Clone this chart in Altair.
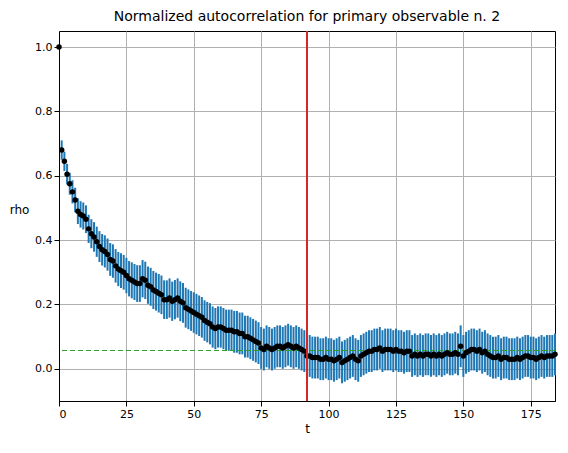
import altair as alt
import pandas as pd

rho = [1.0,0.68,0.645,0.605,0.575,0.55,0.525,0.49,0.48,0.475,
0.465,0.435,0.42,0.41,0.395,0.38,0.37,0.365,0.355,0.34,
0.335,0.32,0.31,0.305,0.3,0.29,0.28,0.275,0.27,0.265,
0.265,0.28,0.275,0.26,0.255,0.245,0.24,0.235,0.23,0.215,
0.215,0.22,0.21,0.215,0.22,0.21,0.205,0.19,0.185,0.18,
0.175,0.17,0.165,0.16,0.15,0.145,0.14,0.13,0.125,0.13,
0.13,0.125,0.12,0.12,0.12,0.115,0.115,0.11,0.11,0.1,
0.1,0.095,0.09,0.085,0.08,0.065,0.06,0.07,0.065,0.06,
0.065,0.07,0.07,0.065,0.07,0.075,0.07,0.065,0.07,0.065,
0.06,0.055,0.04,0.04,0.035,0.035,0.035,0.03,0.03,0.035,
0.03,0.03,0.025,0.03,0.035,0.02,0.025,0.03,0.035,0.04,
0.03,0.025,0.04,0.045,0.05,0.055,0.055,0.06,0.06,0.065,
0.055,0.06,0.06,0.06,0.055,0.06,0.055,0.055,0.05,0.055,
0.055,0.04,0.045,0.04,0.045,0.04,0.045,0.045,0.04,0.045,
0.04,0.045,0.04,0.045,0.05,0.045,0.045,0.05,0.045,0.07,
0.04,0.05,0.055,0.06,0.06,0.055,0.06,0.05,0.055,0.045,
0.04,0.035,0.035,0.04,0.03,0.035,0.035,0.03,0.03,0.03,
0.035,0.03,0.035,0.04,0.04,0.035,0.035,0.03,0.035,0.04,
0.035,0.04,0.04,0.04,0.045]

err = [0.0,0.03,0.03,0.032,0.034,0.036,0.038,0.04,0.041,0.042,
0.043,0.044,0.045,0.046,0.047,0.048,0.049,0.05,0.05,0.051,
0.052,0.052,0.053,0.054,0.054,0.055,0.055,0.056,0.056,0.057,
0.057,0.058,0.058,0.058,0.059,0.059,0.059,0.06,0.06,0.06,
0.06,0.061,0.061,0.061,0.061,0.062,0.062,0.062,0.062,0.062,
0.063,0.063,0.063,0.063,0.063,0.063,0.064,0.064,0.064,0.064,
0.064,0.064,0.064,0.064,0.064,0.065,0.065,0.065,0.065,0.065,
0.065,0.065,0.065,0.065,0.065,0.065,0.065,0.065,0.065,0.065,
0.065,0.065,0.065,0.065,0.065,0.065,0.065,0.065,0.065,0.065,
0.065,0.065,0.065,0.065,0.065,0.065,0.065,0.065,0.065,0.065,
0.065,0.065,0.065,0.065,0.065,0.065,0.065,0.065,0.065,0.065,
0.065,0.065,0.065,0.065,0.065,0.065,0.065,0.065,0.065,0.065,
0.065,0.065,0.065,0.065,0.065,0.065,0.065,0.065,0.065,0.065,
0.065,0.065,0.065,0.065,0.065,0.065,0.065,0.065,0.065,0.065,
0.065,0.065,0.065,0.065,0.065,0.065,0.065,0.065,0.065,0.065,
0.065,0.065,0.065,0.065,0.065,0.065,0.065,0.065,0.065,0.065,
0.065,0.065,0.065,0.065,0.065,0.065,0.065,0.065,0.065,0.065,
0.065,0.065,0.065,0.065,0.065,0.065,0.065,0.065,0.065,0.065,
0.065,0.065,0.065,0.065,0.065]

t_cut = 92
tau_level = 0.057

df = pd.DataFrame({"t": list(range(len(rho))), "rho": rho, "err": err})
df["lo"] = df["rho"] - df["err"]
df["hi"] = df["rho"] + df["err"]

xs = alt.Scale(domain=[0, 184], nice=False, zero=False)
ys = alt.Scale(domain=[-0.1, 1.05], nice=False, zero=False)
xax = alt.Axis(values=[0,25,50,75,100,125,150,175], title="t", grid=True,
               gridColor="#b0b0b0", labelFontSize=11, titleFontSize=12,
               titleFontWeight="normal", tickColor="black", domainColor="black", labelColor="black")
yax = alt.Axis(values=[0,0.2,0.4,0.6,0.8,1.0], format=".1f", title="rho", grid=True,
               gridColor="#b0b0b0", labelFontSize=11, titleFontSize=12, titleAngle=0,
               titleFontWeight="normal", titleX=-40, titleY=185, tickColor="black",
               domainColor="black", labelColor="black")

base = alt.Chart(df)
bars = base.mark_rule(color="#1f77b4", strokeWidth=2).encode(
    x=alt.X("t:Q", scale=xs, axis=xax), y=alt.Y("lo:Q", scale=ys, axis=yax), y2="hi:Q")
pts = base.mark_circle(color="black", size=30, opacity=1).encode(x=alt.X("t:Q", scale=xs), y=alt.Y("rho:Q", scale=ys))
hl = alt.Chart(pd.DataFrame({"y": [tau_level]})).mark_rule(color="#2ca02c", strokeDash=[5, 3], strokeWidth=1).encode(
    y=alt.Y("y:Q", scale=ys))
vl = alt.Chart(pd.DataFrame({"x": [t_cut]})).mark_rule(color="#d62728", strokeWidth=2).encode(
    x=alt.X("x:Q", scale=xs))

chart = alt.layer(bars, hl, pts, vl).properties(
    width=496, height=370,
    title=alt.TitleParams("Normalized autocorrelation for primary observable n. 2",
                          fontSize=14, fontWeight="normal", font="DejaVu Sans", offset=6),
    autosize=alt.AutoSizeParams(type="none"),
    padding={"left": 51, "top": 23, "right": 5, "bottom": 40},
).configure_view(stroke="black", strokeWidth=1).configure_axis(
    labelFont="DejaVu Sans", titleFont="DejaVu Sans")

chart.save("out.html", embed_options={"renderer": "svg", "actions": False})
